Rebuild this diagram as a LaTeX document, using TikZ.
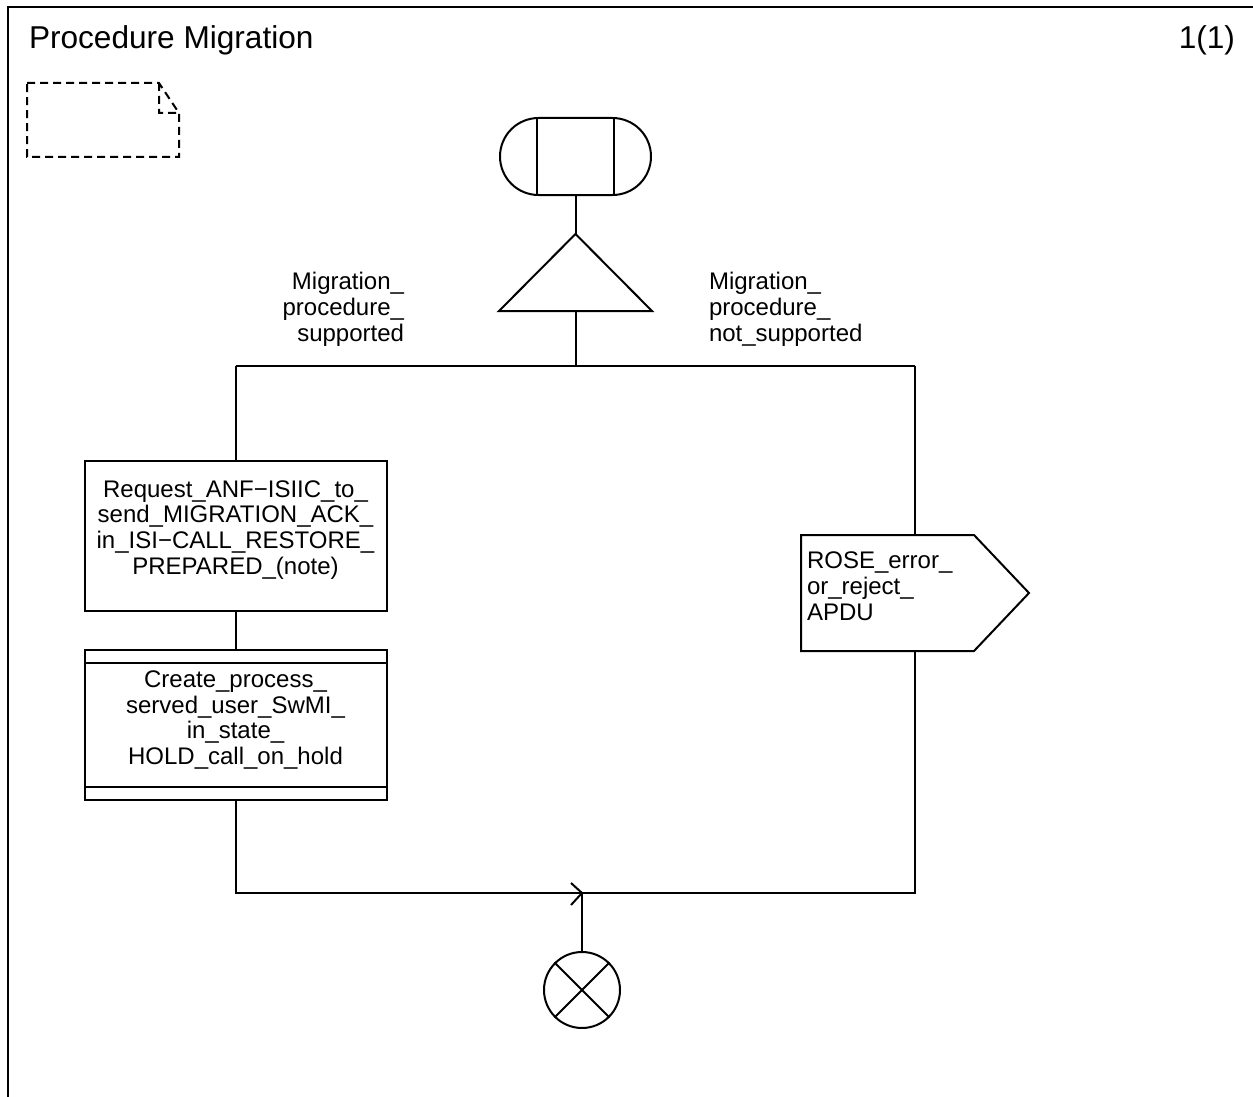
\documentclass[tikz,border=0pt]{standalone}
\usepackage{fontspec}
\setmainfont{Liberation Sans}
\begin{document}
\begin{tikzpicture}[x=0.5pt,y=-0.5pt,line width=1pt,
  txt/.style={font=\fontsize{12}{12.9}\selectfont,inner sep=0pt},
  startbox/.style={draw,rounded corners=19.25pt,minimum width=75.5pt,minimum height=38.5pt,inner sep=0pt},
  taskbox/.style={draw,minimum width=151pt,minimum height=75pt,inner sep=0pt},
  ghost/.style={inner sep=0pt},
  stopnode/.style={draw,circle,minimum size=38pt,inner sep=0pt},
  notedash/.style={dash pattern=on 4pt off 2.5pt}]
\useasboundingbox (0,0) rectangle (1253,1097);
% frame
\draw[line width=1.3pt] (8,1097) -- (8,7) -- (1253,7);
\node[anchor=base west,inner sep=0pt,font=\fontsize{15.8}{17}\selectfont] (title) at (28,49) {Procedure Migration};
\node[anchor=base east,inner sep=0pt,font=\fontsize{15.8}{17}\selectfont] (page) at (1236,49) {1(1)};
% comment symbol
\draw[notedash] (27,83) -- (159,83) -- (179,113) -- (179,157) -- (27,157) -- cycle
  (159,83) -- (159,113) -- (179,113);
% start
\node[startbox] (start) at (575.5,156.5) {};
\draw ([xshift=19pt]start.north west) -- ([xshift=19pt]start.south west)
      ([xshift=-19pt]start.north east) -- ([xshift=-19pt]start.south east);
% decision
\node[ghost,minimum width=75.5pt,minimum height=37.5pt] (dec) at (575.5,272.5) {};
\draw (dec.south west) -- (dec.north) -- (dec.south east) -- cycle;
\draw (start) -- (dec.north);
\coordinate (split) at (575.5,366);
\coordinate (L) at (235.5,366);
\coordinate (R) at (915,366);
\draw (dec.south) -- (split);
\draw (L) -- (R);
\node[txt,align=right,anchor=north east] (lblsup) at (405,271.5) {Migration\_\\procedure\_\\supported};
\node[txt,align=left,anchor=north west] (lblnot) at (708,271.5) {Migration\_\\procedure\_\\not\_supported};
% left branch
\node[taskbox] (req) at (235.5,536) {};
\node[txt,align=center] (reqtext) at (235.5,530) {Request\_ANF−ISIIC\_to\_\\send\_MIGRATION\_ACK\_\\in\_ISI−CALL\_RESTORE\_\\PREPARED\_(note)};
\node[taskbox] (create) at (235.5,725) {};
\draw ([yshift=-7pt]create.north west) -- ([yshift=-7pt]create.north east)
      ([yshift=7pt]create.south west) -- ([yshift=7pt]create.south east);
\node[txt,align=center] (createtext) at (235.5,720) {Create\_process\_\\served\_user\_SwMI\_\\in\_state\_\\HOLD\_call\_on\_hold};
\draw (L) -- (req);
\draw (req) -- (create);
% right branch
\node[ghost,minimum width=113pt,minimum height=57pt] (out) at (915,593) {};
\draw (out.north west) -- ([xshift=-27.5pt]out.north east) -- (out.east) -- ([xshift=-27.5pt]out.south east) -- (out.south west) -- cycle;
\node[txt,align=left,anchor=west] (outtext) at (806,586) {ROSE\_error\_\\or\_reject\_\\APDU};
\draw (R) -- (out);
% join
\coordinate (Lb) at (235.5,893);
\coordinate (Rb) at (915,893);
\coordinate (join) at (582,893);
\draw (create) -- (Lb) -- (Rb) -- (out);
\draw ([shift={(-11,-10)}]join) -- (join) -- ([shift={(-11,12)}]join);
\node[stopnode] (stop) at (582,990) {};
\draw (join) -- (stop);
\draw (stop.north west) -- (stop.south east) (stop.north east) -- (stop.south west);
\end{tikzpicture}
\end{document}
